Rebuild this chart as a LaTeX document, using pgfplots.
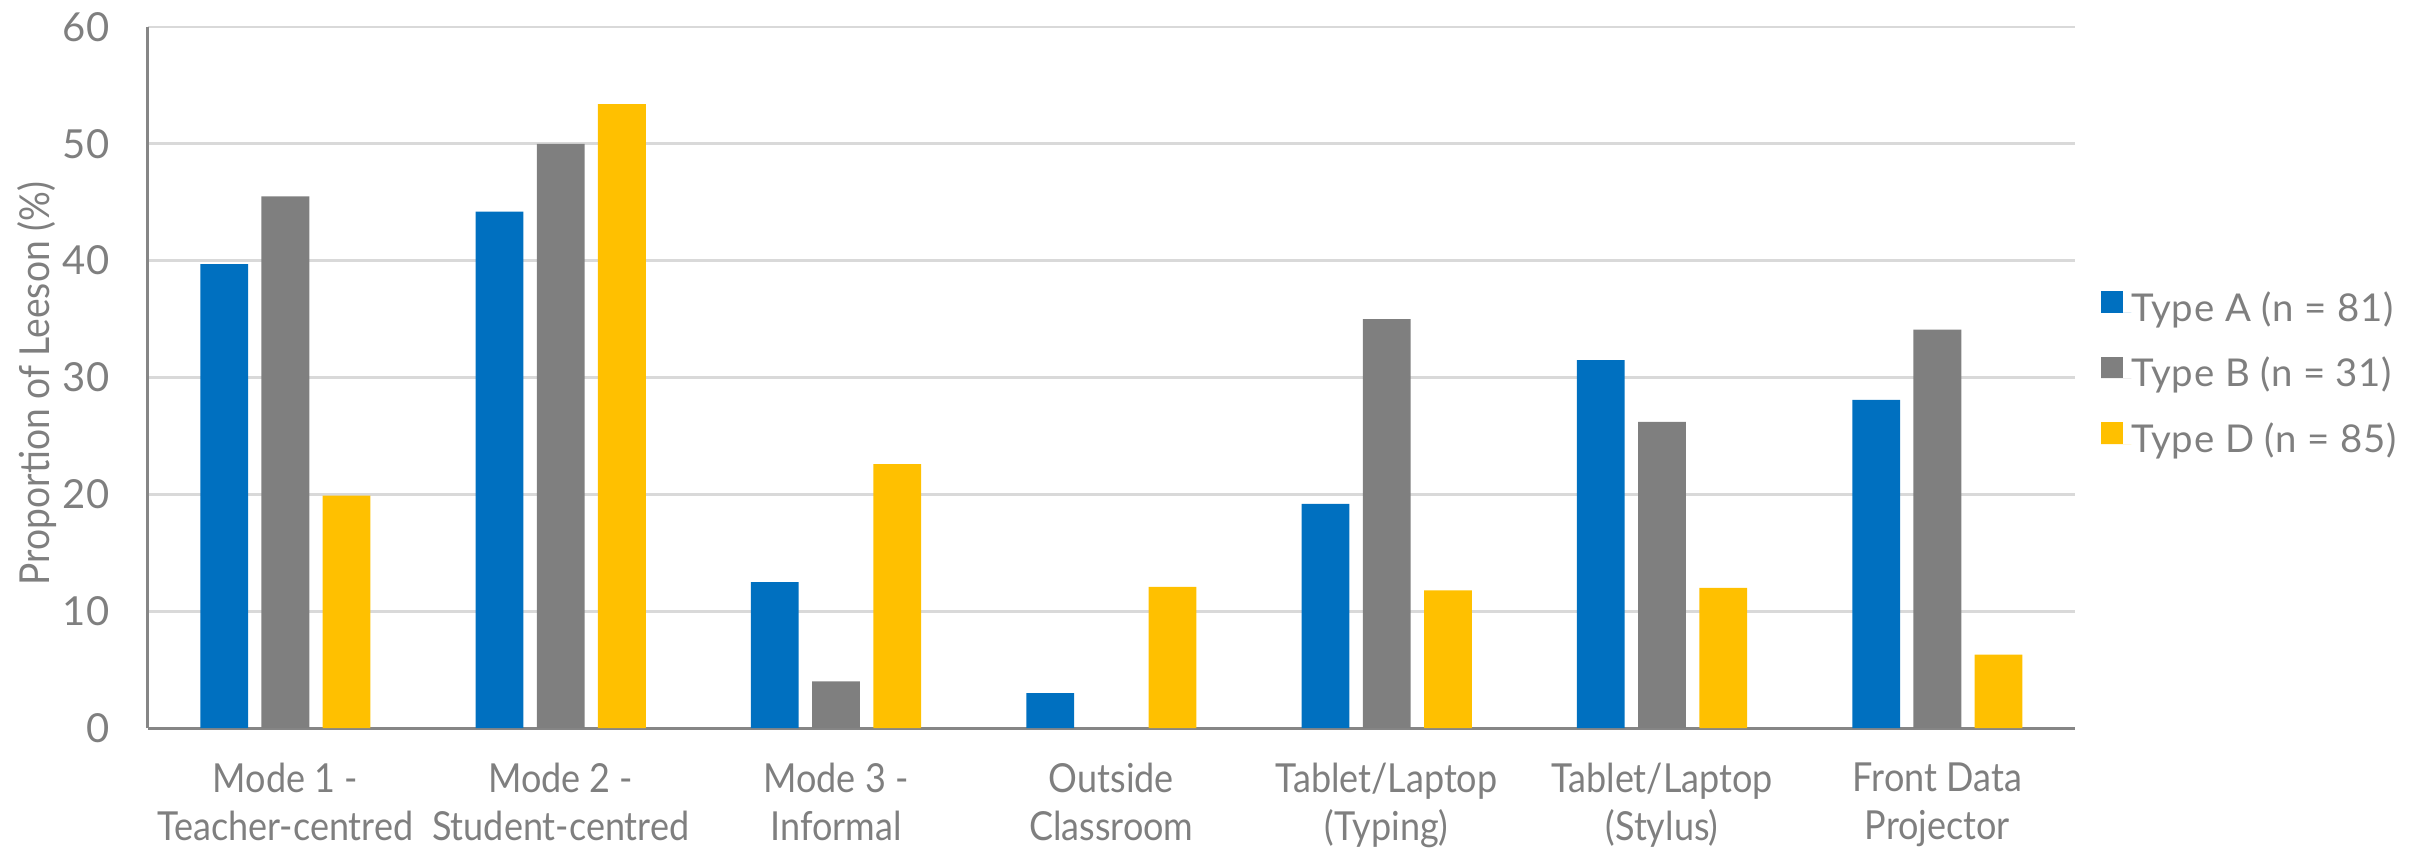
\documentclass[border=0pt]{standalone}
\usepackage{pgfplots}
\pgfplotsset{compat=1.18}
\usepackage{fontspec}
\setmainfont{Lato}
\newfontfamily\catfont[FakeStretch=0.9]{Lato}
\newfontfamily\ylfont[FakeStretch=0.9]{Lato}
\newfontfamily\legfont[LetterSpace=2]{Lato}
\definecolor{cA}{HTML}{0070C0}
\definecolor{cB}{HTML}{7F7F7F}
\definecolor{cD}{HTML}{FFC000}
\definecolor{txt}{HTML}{7F7F7F}
\definecolor{gridc}{HTML}{D9D9D9}
\definecolor{axc}{HTML}{868686}

\pgfplotstableread{
x A B D
0 39.7 45.5 19.9
1 44.2 50.0 53.4
2 12.5 4.0 22.6
3 3.0 0.0 12.1
4 19.2 35.0 11.8
5 31.5 26.2 12.0
6 28.1 34.1 6.3
}\datatable

\begin{document}
\begin{tikzpicture}
\useasboundingbox (-44.31pt,-36.54pt) rectangle (680.79pt,218.46pt);
\begin{axis}[
  ybar,
  bar width=14.34pt,
  at={(0,0)}, anchor=south west,
  scale only axis, width=578.2pt, height=210.4pt,
  ymin=0, ymax=60, ytick={0,10,...,60},
  xmin=-0.5, xmax=6.5, xtick={0,...,6},
  xticklabels={{Mode 1 -\\Teacher-centred},{Mode 2 -\\Student-centred},{Mode 3 -\\Informal},{Outside\\Classroom},{Tablet/Laptop\\(Typing)},{Tablet/Laptop\\(Stylus)},{Front Data\\Projector}},
  axis lines*=left,
  axis line style={-, draw=axc, line width=0.8pt},
  major tick length=0pt,
  ymajorgrids, grid style={draw=gridc, line width=0.8pt},
  /pgf/number format/assume math mode=true,
  yticklabel style={font=\fontsize{12}{14}\selectfont, text=txt, inner sep=0pt, xshift=-11.3pt},
  xticklabel style={font=\catfont\fontsize{12}{14.4}\selectfont, text=txt, align=center, inner sep=0pt, yshift=-10.3pt},
  ylabel={Proportion of Leeson (\%)},
  every axis y label/.style={at={(axis description cs:-0.0574,0.4915)}, rotate=90, anchor=center, font=\ylfont\fontsize{12.4}{14}\selectfont, text=txt},
  legend style={draw=none, fill=none, at={(axis description cs:1,0.5)}, anchor=west, xshift=4.6pt, font=\legfont\fontsize{11.5}{14}\selectfont, text=txt, row sep=7.2pt, nodes={inner sep=0pt, text height=8.5pt, text depth=3.5pt}},
  legend cell align=left,
  legend image code/.code={\fill[#1] (0pt,0pt) rectangle (6.5pt,6.5pt); \path (0pt,0pt) -- (9.1pt,0pt);},
]
\addplot[fill=cA, draw=none, bar shift=-18.36pt] table[x=x,y=A]{\datatable};
\addplot[fill=cB, draw=none, bar shift=0pt] table[x=x,y=B]{\datatable};
\addplot[fill=cD, draw=none, bar shift=18.36pt] table[x=x,y=D]{\datatable};
\legend{Type A (n = 81),Type B (n = 31),Type D (n = 85)}
\end{axis}
\end{tikzpicture}
\end{document}
